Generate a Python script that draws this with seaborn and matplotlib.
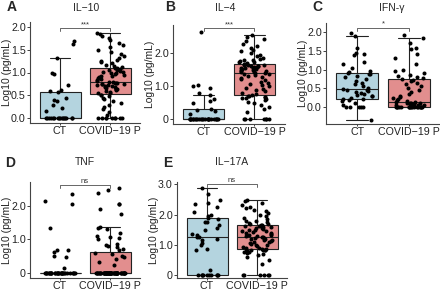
import numpy as np
import pandas as pd
import matplotlib
matplotlib.use("Agg")
import matplotlib.pyplot as plt
import seaborn as sns

groups = ["CT", "COVID\u221219 P"]
titles = ["IL\u221210", "IL\u22124", "IFN-\u03b3", "TNF", "IL\u221217A"]
letters = ["A", "B", "C", "D", "E"]
signif = ["***", "***", "*", "ns", "ns"]

il10_ct = [0] * 16 + [0.16, 0.23, 0.30, 0.37, 0.41, 0.44, 0.57, 0.59,
                      0.62, 0.73, 0.97, 1.0, 1.32, 1.63, 1.68]
il10_cov = [0] * 9 + [0.08, 0.15, 0.2, 0.25, 0.3, 0.33, 0.38, 0.42, 0.45, 0.48, 0.5, 0.52,
                      0.55, 0.56, 0.58, 0.6, 0.61, 0.63, 0.64, 0.65, 0.66, 0.68, 0.69, 0.7,
                      0.71, 0.72, 0.73, 0.74, 0.75, 0.76, 0.77, 0.78, 0.78,
                      0.79, 0.8, 0.82, 0.84, 0.85, 0.87, 0.88, 0.9, 0.92, 0.93, 0.95, 0.96,
                      0.98, 1.0, 1.01, 1.02, 1.04, 1.05, 1.06, 1.08, 1.09,
                      1.1, 1.12, 1.14, 1.17, 1.2, 1.22, 1.25, 1.28, 1.32, 1.36, 1.4, 1.45,
                      1.5, 1.55, 1.6, 1.64, 1.7, 1.75, 1.8, 1.84, 1.86]

il4_ct = [0] * 24 + [0.15, 0.25, 0.28, 0.30, 0.48, 0.55, 0.6, 0.73, 0.8, 0.93, 1.0, 1.04, 2.63]
il4_cov = [0] * 7 + [0.22, 0.3, 0.36, 0.42, 0.48, 0.52, 0.57, 0.6, 0.63, 0.65, 0.67, 0.68,
                     0.69, 0.7, 0.72, 0.75, 0.8, 0.85, 0.88, 0.92, 0.95, 1.0, 1.03, 1.07,
                     1.1, 1.13, 1.17, 1.2, 1.23, 1.26, 1.29, 1.32, 1.35, 1.37, 1.39,
                     1.40, 1.42, 1.44, 1.45, 1.47, 1.48, 1.5, 1.51, 1.52, 1.54, 1.55, 1.56,
                     1.57, 1.58, 1.6, 1.61, 1.62, 1.63, 1.64, 1.65, 1.66,
                     1.68, 1.7, 1.72, 1.74, 1.76, 1.78, 1.8, 1.83, 1.86, 1.9, 1.95, 2.0,
                     2.05, 2.1, 2.15, 2.2, 2.28, 2.35, 2.42, 2.5, 2.56]

ifng_ct = [-0.34, 0, 0, 0, 0, 0, 0.05, 0.1, 0.15, 0.18, 0.2, 0.22,
           0.25, 0.28, 0.3, 0.33, 0.35, 0.38, 0.4, 0.42, 0.44, 0.46, 0.47,
           0.5, 0.55, 0.6, 0.65, 0.7, 0.75, 0.8, 0.84, 0.87, 0.89, 0.91,
           0.93, 0.96, 1.05, 1.15, 1.2, 1.4, 1.42, 1.45, 1.59, 1.90, 1.99]
ifng_cov = [0] * 17 + [0.02, 0.04, 0.05, 0.06, 0.07, 0.08, 0.08, 0.09, 0.1, 0.1, 0.11, 0.11,
                       0.12, 0.12, 0.15, 0.18, 0.2, 0.23, 0.27, 0.3, 0.35, 0.4, 0.45, 0.5,
                       0.55, 0.6, 0.65, 0.7, 0.72, 0.75, 0.78, 0.8, 0.83, 0.86, 0.9, 0.95,
                       1.0, 1.15, 1.3, 1.43, 1.54, 1.57, 1.70, 1.84, 1.93]

tnf_ct = [0] * 31 + [0.15, 0.47, 0.5, 0.63, 0.68, 0.69, 1.32, 2.04, 2.14, 2.34]
tnf_cov = [0] * 56 + [0.25, 0.32, 0.42, 0.47, 0.5, 0.55, 0.6,
                      0.68, 0.72, 0.76, 0.8, 0.82, 0.85, 1.0, 1.05, 1.08, 1.1, 1.19, 1.31,
                      1.34, 1.37, 1.76, 1.9, 2.04, 2.04, 2.38, 2.46, 2.53]

il17_ct = [0] * 10 + [0.16, 0.82, 0.85, 0.98, 1.05, 1.15, 1.2, 1.25, 1.26,
                      1.31, 1.35, 1.47, 1.55, 1.65, 1.74, 1.74, 1.85, 1.9,
                      1.96, 1.98, 2.07, 2.24, 2.34, 2.37, 2.49, 2.69, 2.87]
il17_cov = [0] * 6 + [0.35, 0.5, 0.6, 0.65, 0.7, 0.72, 0.75, 0.77, 0.78, 0.8, 0.81, 0.82,
                      0.83, 0.83, 0.84, 0.86, 0.88, 0.9, 0.92, 0.95, 0.97, 1.0, 1.02, 1.05,
                      1.07, 1.1, 1.12, 1.14, 1.16, 1.18, 1.2, 1.22, 1.23, 1.24, 1.25,
                      1.27, 1.29, 1.31, 1.33, 1.35, 1.37, 1.4, 1.42, 1.44, 1.46, 1.48, 1.5,
                      1.52, 1.54, 1.56, 1.58, 1.6, 1.62, 1.63, 1.64,
                      1.66, 1.68, 1.7, 1.72, 1.75, 1.78, 1.8, 1.85, 1.9, 1.95, 2.0, 2.05,
                      2.1, 2.15, 2.2, 2.25, 2.3, 2.38, 2.45, 2.49]

panels = [(il10_ct, il10_cov), (il4_ct, il4_cov), (ifng_ct, ifng_cov),
          (tnf_ct, tnf_cov), (il17_ct, il17_cov)]

ylims = [(-0.1, 2.1), (-0.15, 2.85), (-0.46, 2.25), (-0.15, 2.7), (-0.11, 3.08)]
yticks = [[0, 0.5, 1.0, 1.5, 2.0], [0, 1, 2], [0, 0.5, 1.0, 1.5, 2.0], [0, 1, 2], [0, 1, 2, 3]]
yticklabels = [["0.0", "0.5", "1.0", "1.5", "2.0"], ["0", "1.0", "2.0"],
               ["0.0", "0.5", "1.0", "1.5", "2.0"], ["0", "1.0", "2.0"],
               ["0", "1.0", "2.0", "3.0"]]
bracket_y = [1.96, 2.76, 2.12, 2.6, 3.0]

sns.set_style("ticks")
plt.rcParams['font.family'] = ['Liberation Sans', 'DejaVu Sans']
np.random.seed(3)

W, H = 440, 292
fig = plt.figure(figsize=(4.4, 2.92), dpi=100)

# axes rects in pixels: left, top, right, bottom
rects = [(30, 22, 140, 123), (173, 25, 285, 124), (326, 23, 440, 124),
         (30, 182, 140, 278), (177, 182, 287, 278)]
title_pos = [(86, 8), (225, 8), (392, 8), (85, 162), (232, 162)]
letter_pos = [(7, 7), (165, 7), (312, 7), (5, 163), (163, 163)]

pal = {groups[0]: "#ADD8E6", groups[1]: "#F08080"}
axcol = "#444444"

for i, (ct, cov) in enumerate(panels):
    l, t, r, b = rects[i]
    ax = fig.add_axes([l / W, 1 - b / H, (r - l) / W, (b - t) / H])
    df = pd.DataFrame({
        "group": [groups[0]] * len(ct) + [groups[1]] * len(cov),
        "value": ct + cov,
    })
    sns.boxplot(data=df, x="group", y="value", hue="group", palette=pal, order=groups,
                showfliers=False, width=0.82, linecolor="#222222", linewidth=0.8,
                legend=False, ax=ax)
    sns.stripplot(data=df, x="group", y="value", order=groups, color="black",
                  size=2.9, jitter=0.3, ax=ax)
    ax.set_xlim(-0.6, 1.6)
    ax.set_ylim(*ylims[i])
    ax.set_yticks(yticks[i])
    ax.set_yticklabels(yticklabels[i])
    ax.set_xlabel("")
    ax.set_ylabel("Log10 (pg/mL)", fontsize=7.5, color="#222222")
    ax.yaxis.set_label_coords(-18 / (r - l), 0.5)
    ax.tick_params(axis="y", labelsize=7.7, length=2, width=0.6, pad=1, colors="#222222")
    ax.tick_params(axis="x", labelsize=7.7, length=1.5, width=0.6, pad=0.5, colors="#222222")
    for s in ["top", "right"]:
        ax.spines[s].set_visible(False)
    for s in ["left", "bottom"]:
        ax.spines[s].set_color(axcol)
        ax.spines[s].set_linewidth(0.8)

    # significance bracket
    y = bracket_y[i]
    d = (ylims[i][1] - ylims[i][0]) * 0.03
    ax.plot([0, 0, 1, 1], [y - d, y, y, y - d], color="#666666", lw=0.7, clip_on=False)
    ax.text(0.5, y, signif[i], ha="center", va="bottom", fontsize=5.5, color="#333333")

    tx, ty = title_pos[i]
    fig.text(tx / W, 1 - ty / H, titles[i], ha="center", va="center", fontsize=7.5)
    lx, ly = letter_pos[i]
    fig.text(lx / W, 1 - ly / H, letters[i], ha="left", va="center", fontsize=10,
             fontweight="bold")

fig.savefig("out.png", dpi=100)
